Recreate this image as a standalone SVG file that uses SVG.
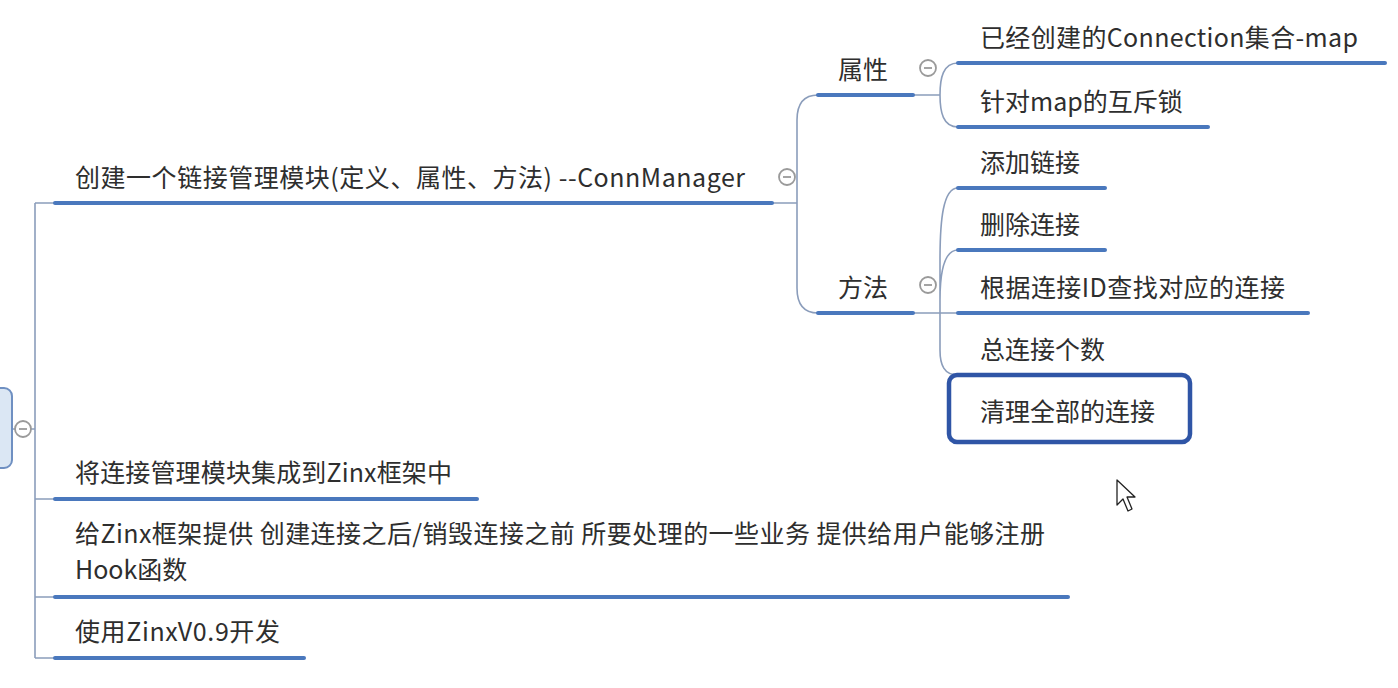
<svg xmlns="http://www.w3.org/2000/svg" width="1398" height="688" viewBox="0 0 1398 688">
<style>
text{font-family:"Noto Sans CJK SC","Noto Sans",sans-serif;font-size:25px;fill:#2e2e2e}
.ul{stroke:#4a78bd;stroke-width:4;stroke-linecap:round;fill:none}
.cn{stroke:#8b9dbb;stroke-width:1.6;fill:none}
.col circle{fill:#fff;stroke:#9a9a9a;stroke-width:1.8}
.col line{stroke:#9a9a9a;stroke-width:1.8}
</style>
<rect width="1398" height="688" fill="#fff"/>
<g id="connectors">
<path class="cn" d="M12 429 H35 M35 203 V658 M35 203 H55 M35 499 H55 M35 597 H55 M35 658 H55"/>
<path class="cn" d="M772 203 H797 M818 95 Q797 95 797 120 V288 Q797 313 818 313"/>
<path class="cn" d="M913 95 H940 M958 63 C943 63 940 78 940 95 C940 112 943 127 958 127"/>
<path class="cn" d="M913 313 H958 M958 188 C943 188 940 220 940 260 V313 M958 250 C945 250 940 270 940 300 M940 313 V350 C940 365 944 375 958 375"/>
</g>
<g id="root">
<rect x="-12" y="388" width="24" height="80" rx="8" fill="#dbe7f4" stroke="#6f90c2" stroke-width="2"/>
<g class="col"><circle cx="23" cy="429" r="8"/><line x1="19" y1="429" x2="27" y2="429"/></g>
</g>
<g id="n1">
<text x="75" y="187" textLength="670" lengthAdjust="spacing">创建一个链接管理模块(定义、属性、方法) --ConnManager</text>
<line class="ul" x1="55" y1="203" x2="772" y2="203"/>
<g class="col"><circle cx="787" cy="177" r="8"/><line x1="783" y1="177" x2="791" y2="177"/></g>
</g>
<g id="n-attr">
<text x="838" y="79">属性</text>
<line class="ul" x1="818" y1="95" x2="913" y2="95"/>
<g class="col"><circle cx="928" cy="68" r="8"/><line x1="924" y1="68" x2="932" y2="68"/></g>
</g>
<g id="n-attr1">
<text x="980" y="47" textLength="378" lengthAdjust="spacing">已经创建的Connection集合-map</text>
<line class="ul" x1="958" y1="63" x2="1385" y2="63"/>
</g>
<g id="n-attr2">
<text x="980" y="111">针对map的互斥锁</text>
<line class="ul" x1="958" y1="127" x2="1208" y2="127"/>
</g>
<g id="n-method">
<text x="838" y="297">方法</text>
<line class="ul" x1="818" y1="313" x2="913" y2="313"/>
<g class="col"><circle cx="928" cy="285" r="8"/><line x1="924" y1="285" x2="932" y2="285"/></g>
</g>
<g id="n-m1">
<text x="980" y="172">添加链接</text>
<line class="ul" x1="958" y1="188" x2="1105" y2="188"/>
</g>
<g id="n-m2">
<text x="980" y="234">删除连接</text>
<line class="ul" x1="958" y1="250" x2="1105" y2="250"/>
</g>
<g id="n-m3">
<text x="980" y="297" textLength="305" lengthAdjust="spacing">根据连接ID查找对应的连接</text>
<line class="ul" x1="958" y1="313" x2="1308" y2="313"/>
</g>
<g id="n-m4">
<text x="980" y="359">总连接个数</text>
<line class="ul" x1="958" y1="375" x2="1105" y2="375"/>
</g>
<g id="n-m5">
<rect x="949" y="375" width="241" height="67" rx="8" fill="#fff" stroke="#2f55a6" stroke-width="4.5"/>
<text x="980" y="421">清理全部的连接</text>
</g>
<g id="n2">
<text x="75" y="482" textLength="377" lengthAdjust="spacing">将连接管理模块集成到Zinx框架中</text>
<line class="ul" x1="55" y1="499" x2="477" y2="499"/>
</g>
<g id="n3">
<text x="75" y="543" textLength="970" lengthAdjust="spacing">给Zinx框架提供 创建连接之后/销毁连接之前 所要处理的一些业务 提供给用户能够注册</text>
<text x="75" y="579">Hook函数</text>
<line class="ul" x1="55" y1="597" x2="1068" y2="597"/>
</g>
<g id="n4">
<text x="75" y="641" textLength="205" lengthAdjust="spacing">使用ZinxV0.9开发</text>
<line class="ul" x1="55" y1="658" x2="304" y2="658"/>
</g>
<path d="M1117 480 L1117 505 L1123 499 L1128 511 L1132 509 L1127 497 L1135 497 Z" fill="#fff" stroke="#222" stroke-width="1.3" stroke-linejoin="round"/>
</svg>
